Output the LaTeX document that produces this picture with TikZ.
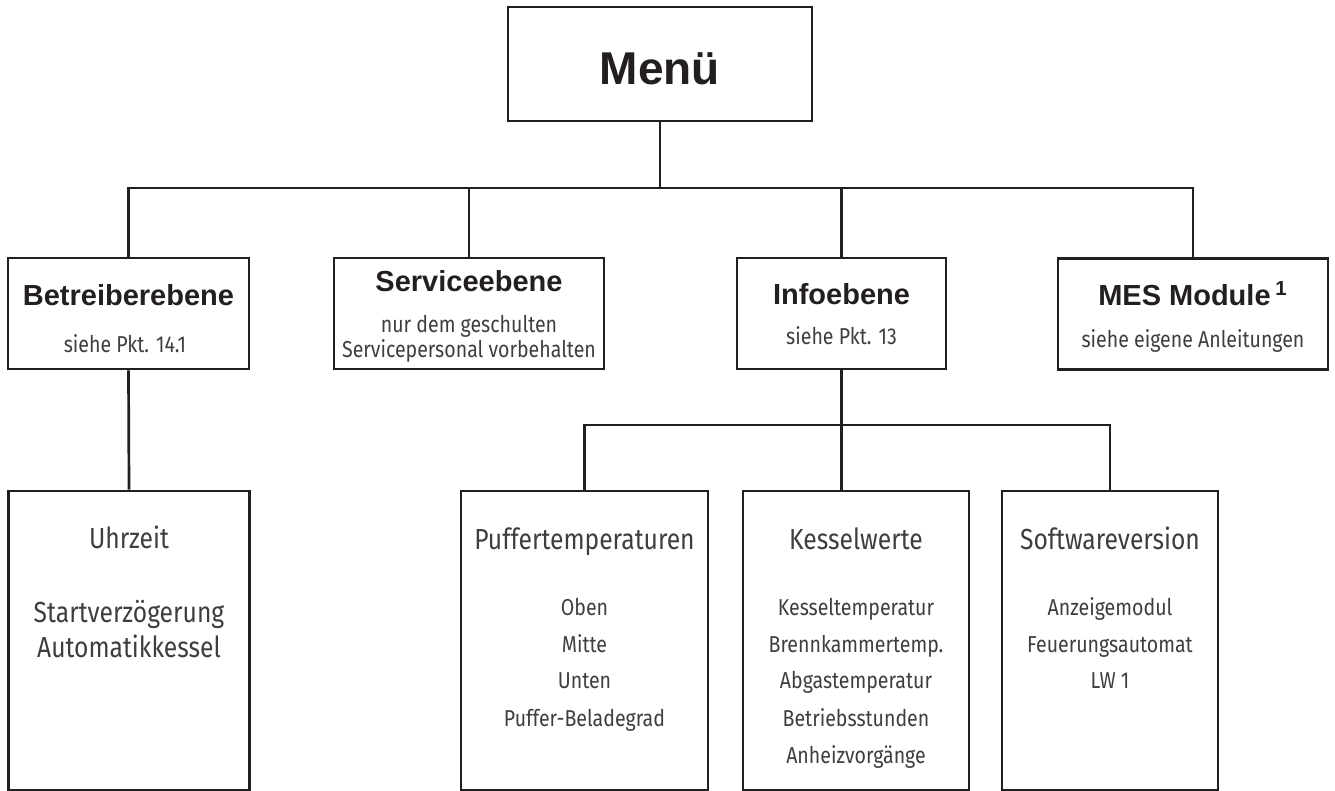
\documentclass[tikz,border=0pt]{standalone}
\usepackage{fontspec}
\setmainfont{Liberation Sans}
\newfontfamily\lightfont[FakeStretch=0.85]{Fira Sans}
\usetikzlibrary{positioning}
\definecolor{ink}{RGB}{35,31,32}
\definecolor{grayink}{RGB}{62,62,62}
\begin{document}
\begin{tikzpicture}[x=0.5pt,y=-0.5pt,
        box/.style={draw=ink,line width=1.35pt,inner sep=0pt},
        link/.style={draw=ink,line width=1.35pt},
        title/.style={anchor=base,text=ink,font=\bfseries\fontsize{23}{27}\selectfont},
        head/.style={anchor=base,text=ink,font=\bfseries\fontsize{14.5}{17}\selectfont},
        note/.style={anchor=base,text=grayink,font=\lightfont\fontsize{11.5}{14}\selectfont},
        entry/.style={anchor=base,text=grayink,font=\lightfont\fontsize{14.5}{17}\selectfont}]
        \useasboundingbox (0,0) rectangle (1335,791);
        %% menu
        \node[box,minimum width=152pt,minimum height=57pt] (menu) at (660,64) {};
        \node[title] (menutxt) at (660,85) {Menü};
        %% first level
        \node[box,minimum width=120.5pt,minimum height=55.5pt] (betr) at (128.5,313.5) {};
        \node[head] (betrhead) at (128.5,306) {Betreiberebene};
        \node[note] (betrnote) at (125,353) {siehe Pkt. 14.1};
        \node[box,minimum width=135pt,minimum height=55.5pt] (serv) at (469,313.5) {};
        \node[head] (servhead) at (469,292) {Serviceebene};
        \node[note] (servnote) at (469,333) {nur dem geschulten};
        \node[note] (servnotb) at (469,358) {Servicepersonal vorbehalten};
        \node[box,minimum width=104.5pt,minimum height=55.5pt] (info) at (841.5,313.5) {};
        \node[head] (infohead) at (841.5,305) {Infoebene};
        \node[note] (infonote) at (841.5,345) {siehe Pkt. 13};
        \node[box,minimum width=135pt,minimum height=55.5pt] (mes) at (1193,314) {};
        \node[head] (meshead) at (1193,306) {MES Module\,\textsuperscript{1}};
        \node[note] (mesnote) at (1193,348) {siehe eigene Anleitungen};
        %% second level, operator
        \node[box,minimum width=120.5pt,minimum height=149.5pt] (uhr) at (129,640.5) {};
        \node[entry] (uhrhead) at (129,549) {Uhrzeit};
        \node[entry] (uhrstart) at (129,622) {Startverzögerung};
        \node[entry] (uhrauto) at (129,657) {Automatikkessel};
        %% second level, info
        \node[box,minimum width=123.5pt,minimum height=149.5pt] (puf) at (584.5,640.5) {};
        \node[entry] (pufhead) at (584.5,550) {Puffertemperaturen};
        \node[note] (pufoben) at (584.5,615) {Oben};
        \node[note] (pufmitte) at (584.5,652) {Mitte};
        \node[note] (pufunten) at (584.5,688) {Unten};
        \node[note] (pufgrad) at (584.5,726) {Puffer-Beladegrad};
        \node[box,minimum width=113pt,minimum height=149.5pt] (kes) at (856,640.5) {};
        \node[entry] (keshead) at (856,550) {Kesselwerte};
        \node[note] (kestemp) at (856,615) {Kesseltemperatur};
        \node[note] (kesbrenn) at (856,652) {Brennkammertemp.};
        \node[note] (kesabgas) at (856,688) {Abgastemperatur};
        \node[note] (kesstd) at (856,726) {Betriebsstunden};
        \node[note] (kesanh) at (856,763) {Anheizvorgänge};
        \node[box,minimum width=108pt,minimum height=149.5pt] (soft) at (1110,640.5) {};
        \node[entry] (softhead) at (1110,550) {Softwareversion};
        \node[note] (softanz) at (1110,615) {Anzeigemodul};
        \node[note] (softfeu) at (1110,652) {Feuerungsautomat};
        \node[note] (softlw) at (1110,688) {LW 1};
        %% connectors
        \coordinate (top) at (660,188);
        \coordinate (mid) at (841.5,425);
        \draw[link] (menu.south) -- (top);
        \draw[link] (betr.north) |- (top) -| (mes.north);
        \draw[link] (serv.north) -- (serv.north |- top);
        \draw[link] (info.north) -- (info.north |- top);
        \draw[link] (betr.south) -- (uhr.north);
        \draw[link] (info.south) -- (info.south |- kes.north);
        \draw[link] (puf.north) |- (mid) -| (soft.north);
    \end{tikzpicture}
\end{document}
